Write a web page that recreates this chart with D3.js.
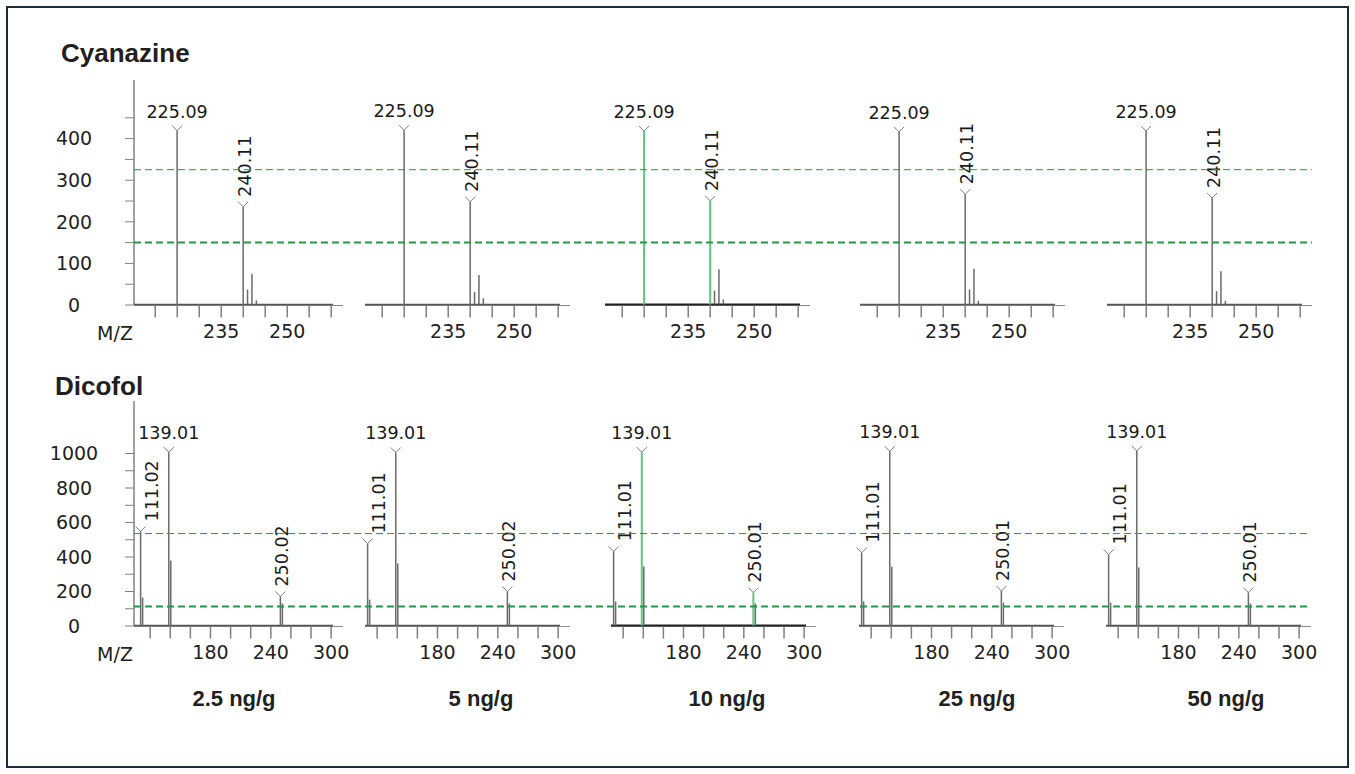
<!DOCTYPE html>
<html lang="en">
<head>
  <meta charset="UTF-8">
  <title>Cyanazine / Dicofol spectra</title>
  <script src="https://d3js.org/d3.v7.min.js"></script>
  <style>
    body { margin: 0; padding: 0; background: #fff; }
    svg { display: block; }
    .tick text { font-family: "DejaVu Sans", sans-serif; font-size: 19px; fill: #222; }
    .tick line { stroke: #808080; }
    .mz-label { font-family: "DejaVu Sans", sans-serif; font-size: 19px; fill: #222; }
    .peak-label { font-family: "DejaVu Sans", sans-serif; font-size: 17.5px; fill: #1a1a1a; }
    .title { font-family: "Liberation Sans", Arial, sans-serif; font-weight: bold; font-size: 26px; fill: #231f20; }
    .conc { font-family: "Liberation Sans", Arial, sans-serif; font-weight: bold; font-size: 22px; fill: #231f20; }
  </style>
</head>
<body>
  <svg id="chart"></svg>

  <script>
    // concentrations, one panel each
    const concentrations = ['2.5 ng/g', '5 ng/g', '10 ng/g', '25 ng/g', '50 ng/g'];

    // Cyanazine peaks (m/z) and intensities per concentration
    const cyanMz = [225.09, 240.11, 241.1, 242.1, 243.1];
    const cyanInt = [
      [418, 235, 36, 74, 10],
      [419, 247, 30, 71, 15],
      [417, 249, 33, 85, 12],
      [415, 265, 36, 86, 9],
      [417, 256, 32, 80, 9]
    ];
    const cyanLabels = [
      ['225.09', '240.11'], ['225.09', '240.11'], ['225.09', '240.11'],
      ['225.09', '240.11'], ['225.09', '240.11']
    ];
    const cyanLabelPeaks = [0, 1];
    const cyanThresholds = [324, 149];
    const cyanXTicks = [220, 225, 230, 235, 240, 245, 250, 255, 260];
    const cyanXLabels = [235, 250];
    const cyanYTicks = [0, 50, 100, 150, 200, 250, 300, 350, 400, 450];
    const cyanYLabels = [0, 100, 200, 300, 400];

    // Dicofol peaks (m/z) and intensities per concentration
    const dicoMz = [111.01, 113.01, 139.01, 141.01, 250.01, 252.01];
    const dicoInt = [
      [545, 162, 1005, 377, 168, 128],
      [475, 150, 1003, 360, 197, 128],
      [430, 139, 1005, 342, 191, 128],
      [422, 140, 1010, 340, 200, 133],
      [412, 133, 1012, 336, 191, 128]
    ];
    const dicoLabels = [
      ['111.02', '139.01', '250.02'], ['111.01', '139.01', '250.02'],
      ['111.01', '139.01', '250.01'], ['111.01', '139.01', '250.01'],
      ['111.01', '139.01', '250.01']
    ];
    const dicoLabelPeaks = [0, 2, 4];
    const dicoThresholds = [533, 110];
    const dicoXTicks = [120, 140, 160, 180, 200, 220, 240, 260, 280, 300];
    const dicoXLabels = [180, 240, 300];
    const dicoYTicks = [0, 100, 200, 300, 400, 500, 600, 700, 800, 900, 1000];
    const dicoYLabels = [0, 200, 400, 600, 800, 1000];

    // panel highlighted in green (10 ng/g)
    const highlightPanel = 2;

    const width = 1355, height = 774;
    const svg = d3.select('#chart').attr('width', width).attr('height', height);

    svg.append('rect')
      .attr('x', 7).attr('y', 7).attr('width', 1341).attr('height', 760)
      .attr('fill', 'none').attr('stroke', '#1d2d3a').attr('stroke-width', 2);

    const panelW = 205;
    const rows = [
      {
        title: 'Cyanazine', titleX: 61, titleY: 62, lefts: [138, 365, 605, 860, 1107],
        xDomain: [216.2, 262.8], yDomain: [0, 450], yRange: [304.5, 117.3], axisTop: 80,
        mz: cyanMz, ints: cyanInt, labels: cyanLabels, labelPeaks: cyanLabelPeaks,
        rotated: [false, true], green: [0, 1], thresholds: cyanThresholds,
        xTicks: cyanXTicks, xLabels: cyanXLabels, yTicks: cyanYTicks, yLabels: cyanYLabels
      },
      {
        title: 'Dicofol', titleX: 55, titleY: 395, lefts: [138, 365, 611, 859, 1106],
        xDomain: [108.4, 312.3], yDomain: [0, 1000], yRange: [625.5, 453], axisTop: 401,
        mz: dicoMz, ints: dicoInt, labels: dicoLabels, labelPeaks: dicoLabelPeaks,
        rotated: [true, false, true], green: [2, 4], thresholds: dicoThresholds,
        xTicks: dicoXTicks, xLabels: dicoXLabels, yTicks: dicoYTicks, yLabels: dicoYLabels
      }
    ];

    rows.forEach(row => {
      const y = d3.scaleLinear().domain(row.yDomain).range(row.yRange);
      const y0 = y(0);
      const axisX = 134;

      svg.append('text').attr('class', 'title')
        .attr('x', row.titleX).attr('y', row.titleY).text(row.title);

      // y axis (first panel only)
      const yAxis = svg.append('g').attr('transform', `translate(${axisX},0)`)
        .call(d3.axisLeft(y).tickValues(row.yTicks).tickSize(9).tickSizeOuter(0)
          .tickFormat(d => row.yLabels.includes(d) ? d : ''));
      yAxis.select('.domain').remove();
      yAxis.selectAll('.tick text').attr('x', -60).attr('text-anchor', 'middle').attr('dy', '0.36em');
      svg.append('line')
        .attr('x1', axisX).attr('x2', axisX).attr('y1', row.axisTop).attr('y2', y0)
        .attr('stroke', '#808080').attr('stroke-width', 1.5);

      svg.append('text').attr('class', 'mz-label')
        .attr('x', 115).attr('y', y0 + 35).attr('text-anchor', 'middle')
        .text('M/Z');

      row.lefts.forEach((left, p) => {
        const x = d3.scaleLinear().domain(row.xDomain).range([left, left + panelW]);
        const start = p === 0 ? axisX : left;

        // axis line and spectrum baseline
        svg.append('line')
          .attr('x1', start).attr('x2', left + panelW).attr('y1', y0 + 1).attr('y2', y0 + 1)
          .attr('stroke', '#8a8a8a').attr('stroke-width', 1);
        svg.append('line')
          .attr('x1', start).attr('x2', left + panelW - 10).attr('y1', y0).attr('y2', y0)
          .attr('stroke', p === highlightPanel ? '#222' : '#555').attr('stroke-width', p === highlightPanel ? 2 : 1.6);

        const xAxis = svg.append('g').attr('transform', `translate(0,${y0 + 1})`)
          .call(d3.axisBottom(x).tickValues(row.xTicks).tickSize(12).tickSizeOuter(0)
            .tickFormat(d => row.xLabels.includes(d) ? d : ''));
        xAxis.select('.domain').remove();
        xAxis.selectAll('.tick line').attr('stroke', '#7a7a7a').attr('stroke-width', 1.5);
        xAxis.selectAll('.tick text').attr('y', 19);

        // peaks
        row.mz.forEach((m, i) => {
          const isGreen = p === highlightPanel && row.green.includes(i);
          svg.append('line')
            .attr('x1', x(m)).attr('x2', x(m))
            .attr('y1', y0).attr('y2', y(row.ints[p][i]))
            .attr('stroke', isGreen ? '#62c483' : '#6a6a6a')
            .attr('stroke-width', isGreen ? 2 : 1.5);
        });

        // peak labels
        row.labelPeaks.forEach((pi, k) => {
          const px = x(row.mz[pi]);
          const top = y(row.ints[p][pi]);
          svg.append('path')
            .attr('d', `M${px - 5},${top - 5}L${px},${top}L${px + 5},${top - 5}`)
            .attr('fill', 'none').attr('stroke', '#7a7a7a').attr('stroke-width', 1);
          if (row.rotated[k]) {
            const dx = px - left < 12 ? 17 : 8;
            svg.append('text').attr('class', 'peak-label')
              .attr('transform', `translate(${px + dx},${top - 10}) rotate(-90)`)
              .attr('text-anchor', 'start')
              .text(row.labels[p][k]);
          } else {
            svg.append('text').attr('class', 'peak-label')
              .attr('x', px).attr('y', top - 13).attr('text-anchor', 'middle')
              .text(row.labels[p][k]);
          }
        });
      });

      // threshold lines across all panels
      const xEnd = row.lefts[row.lefts.length - 1] + panelW;
      row.thresholds.forEach((t, i) => {
        svg.append('line')
          .attr('x1', axisX).attr('x2', xEnd).attr('y1', y(t)).attr('y2', y(t))
          .attr('stroke', '#1f9a45')
          .attr('stroke-width', i === 0 ? 1 : 2)
          .attr('stroke-dasharray', '7,4');
      });
    });

    const concX = [234, 481, 727, 977, 1226];
    svg.selectAll('.conc').data(concentrations).enter().append('text')
      .attr('class', 'conc')
      .attr('x', (d, i) => concX[i]).attr('y', 706)
      .attr('text-anchor', 'middle')
      .text(d => d);
  </script>
</body>
</html>
